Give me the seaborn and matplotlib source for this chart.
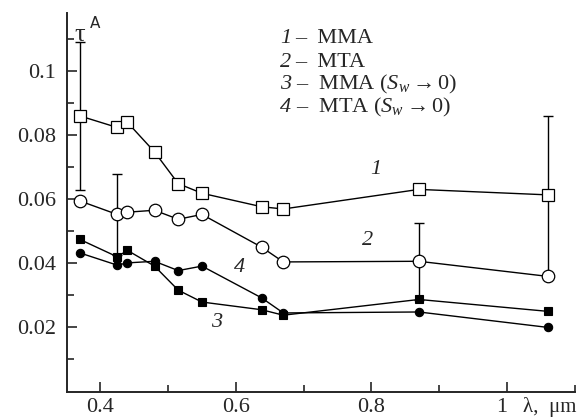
import numpy as np
import pandas as pd
import matplotlib
matplotlib.use("Agg")
import matplotlib.pyplot as plt
from matplotlib.ticker import FixedLocator, FixedFormatter
import seaborn as sns

# ---- data ----
wavelength = [0.37, 0.425, 0.44, 0.48, 0.515, 0.55, 0.638, 0.67, 0.87, 1.06]
mma = [0.0859, 0.0823, 0.0839, 0.0747, 0.0648, 0.0618, 0.0576, 0.0569, 0.0630, 0.0613]
mta = [0.0594, 0.0552, 0.0559, 0.0565, 0.0537, 0.0552, 0.0450, 0.0404, 0.0406, 0.0359]
mma_sw0 = [0.0474, 0.0420, 0.0440, 0.0391, 0.0316, 0.0279, 0.0255, 0.0238, 0.0287, 0.0250]
mta_sw0 = [0.0432, 0.0394, 0.0401, 0.0406, 0.0377, 0.0391, 0.0292, 0.0245, 0.0248, 0.0200]

mma_err_x = [0.37, 1.06]
mma_err_y = [0.0859, 0.0613]
mma_err = [0.0231, 0.0247]
mta_err_x = [0.425, 0.87]
mta_err_y = [0.0552, 0.0406]
mta_err = [0.0125, 0.0120]

legend_lines = [("1", "MMA"), ("2", "MTA"),
                ("3", r"MMA ($S_w \rightarrow 0$)"), ("4", r"MTA ($S_w \rightarrow 0$)")]
xticks = [0.4, 0.6, 0.8, 1.0]
xtick_labels = ["0.4", "0.6", "0.8", "1"]
yticks = [0.02, 0.04, 0.06, 0.08, 0.1]
ytick_labels = ["0.02", "0.04", "0.06", "0.08", "0.1"]

# ---- style ----
sns.set_style("ticks")
plt.rcParams["font.family"] = ["Liberation Serif", "DejaVu Serif"]
plt.rcParams["mathtext.fontset"] = "custom"
plt.rcParams["mathtext.rm"] = "Liberation Serif"
plt.rcParams["mathtext.it"] = "Liberation Serif:italic"
plt.rcParams["mathtext.bf"] = "Liberation Serif:bold"

FS = 16

fig = plt.figure(figsize=(5.83, 4.17), dpi=100)
ax = fig.add_axes([0.115, 0.061, 0.871, 0.908])

# error bars (behind markers)
ax.errorbar(mma_err_x, mma_err_y, yerr=mma_err, fmt="none", ecolor="black",
            elinewidth=1, capsize=3.5, capthick=1, zorder=1)
ax.errorbar(mta_err_x, mta_err_y, yerr=mta_err, fmt="none", ecolor="black",
            elinewidth=1, capsize=3.5, capthick=1, zorder=1)

common = dict(color="black", linewidth=1.0, markeredgecolor="black", legend=False, ax=ax)
sns.lineplot(x=wavelength, y=mma_sw0, marker="s", markersize=5.5, markerfacecolor="black",
             markeredgewidth=0.8, zorder=3, **common)
sns.lineplot(x=wavelength, y=mta_sw0, marker="o", markersize=6, markerfacecolor="black",
             markeredgewidth=0.8, zorder=3, **common)
sns.lineplot(x=wavelength, y=mma, marker="s", markersize=8.5, markerfacecolor="white",
             markeredgewidth=0.9, zorder=4, **common)
sns.lineplot(x=wavelength, y=mta, marker="o", markersize=9, markerfacecolor="white",
             markeredgewidth=0.9, zorder=4, **common)

ax.set_xlim(0.351, 1.1)
ax.set_ylim(0.0, 0.118)
ax.xaxis.set_major_locator(FixedLocator(xticks))
ax.xaxis.set_major_formatter(FixedFormatter(xtick_labels))
ax.xaxis.set_minor_locator(FixedLocator([0.5, 0.7, 0.9, 1.1]))
ax.yaxis.set_major_locator(FixedLocator(yticks))
ax.yaxis.set_major_formatter(FixedFormatter(ytick_labels))
ax.yaxis.set_minor_locator(FixedLocator([0.01, 0.03, 0.05, 0.07, 0.09, 0.11]))
ax.tick_params(which="major", direction="in", length=7, width=1.2, labelsize=FS)
ax.tick_params(axis="x", which="major", pad=4.8)
ax.tick_params(axis="y", which="major", pad=8)
ax.tick_params(which="minor", direction="in", length=5, width=1.2)
sns.despine(ax=ax)
for s in ("left", "bottom"):
    ax.spines[s].set_linewidth(1.4)
ax.set_xlabel("")
ax.set_ylabel("")

# the "1" tick label sits just left of its tick in the original
fig.canvas.draw()
ax.xaxis.get_major_ticks()[-1].label1.set_horizontalalignment("right")

# axis labels
ax.text(0.3615, 0.1112, "τ", fontsize=19, ha="left", va="center")
ax.text(0.384, 0.1148, "A", fontsize=11, ha="left", va="center", family="DejaVu Sans")
ax.text(0.897, -0.054, "λ,  μm", transform=ax.transAxes, fontsize=FS - 1, ha="left",
        va="baseline", clip_on=False)

# curve labels
ax.text(0.806, 0.0693, "1", fontsize=FS, style="italic", ha="center", va="center")
ax.text(0.794, 0.0472, "2", fontsize=FS, style="italic", ha="center", va="center")
ax.text(0.572, 0.0216, "3", fontsize=FS, style="italic", ha="center", va="center")
ax.text(0.606, 0.0387, "4", fontsize=FS, style="italic", ha="center", va="center")

# legend block
leg_y = [0.1099, 0.1026, 0.0956, 0.0884]
for (num, lab), yy in zip(legend_lines, leg_y):
    ax.text(0.665, yy, num, fontsize=FS, style="italic", ha="left", va="center")
    ax.text(0.688, yy, "–  " + lab, fontsize=FS, ha="left", va="center")

fig.savefig("out.png", dpi=100)
